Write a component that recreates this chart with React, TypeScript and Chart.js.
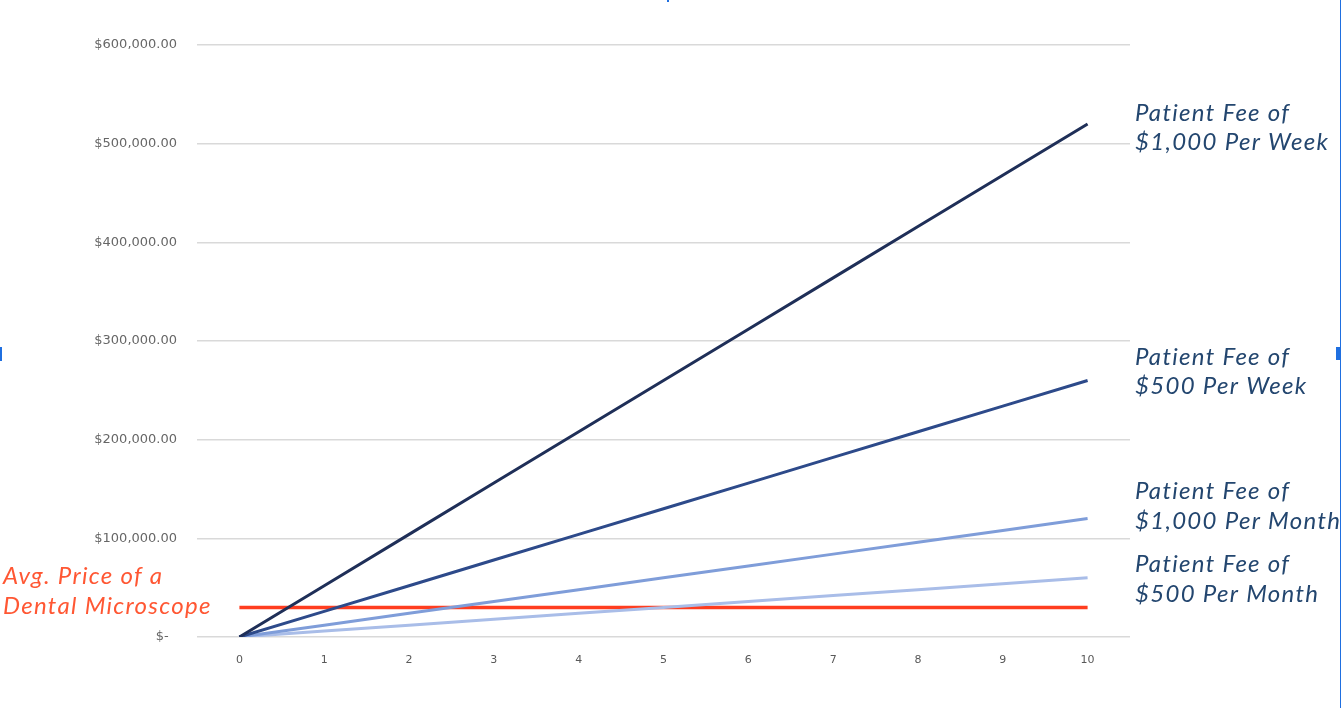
import React, { useEffect, useRef } from 'react';
import { Chart, registerables } from 'chart.js';

Chart.register(...registerables);

const years = ['0', '1', '2', '3', '4', '5', '6', '7', '8', '9', '10'];
const yTicks = [0, 100000, 200000, 300000, 400000, 500000, 600000];

const feeWeek1000 = [0, 52000, 104000, 156000, 208000, 260000, 312000, 364000, 416000, 468000, 520000];
const feeWeek500 = [0, 26000, 52000, 78000, 104000, 130000, 156000, 182000, 208000, 234000, 260000];
const feeMonth1000 = [0, 12000, 24000, 36000, 48000, 60000, 72000, 84000, 96000, 108000, 120000];
const feeMonth500 = [0, 6000, 12000, 18000, 24000, 30000, 36000, 42000, 48000, 54000, 60000];
const microscopePrice = [30000, 30000, 30000, 30000, 30000, 30000, 30000, 30000, 30000, 30000, 30000];

const seriesLabels = [
    ['Patient Fee of', '$1,000 Per Week'],
    ['Patient Fee of', '$500 Per Week'],
    ['Patient Fee of', '$1,000 Per Month'],
    ['Patient Fee of', '$500 Per Month'],
];
const priceLabel = ['Avg. Price of a', 'Dental Microscope'];

// baseline offsets of the two text lines from the end point of each series
const labelOffsets = [[-3, 26], [-15, 14], [-20, 10], [-6, 24]];

const noteFont = 'italic 24px Lato';

const notesPlugin = {
    id: 'notes',
    afterDatasetsDraw(chart: any) {
        const ctx = chart.ctx;
        ctx.save();
        ctx.font = noteFont;
        ctx.letterSpacing = '1.3px';
        ctx.textAlign = 'left';
        ctx.textBaseline = 'alphabetic';
        ctx.fillStyle = '#23466f';
        for (let i = 0; i < 4; i++) {
            const pts = chart.getDatasetMeta(i).data;
            const y = pts[pts.length - 1].y;
            ctx.fillText(seriesLabels[i][0], 1135, y + labelOffsets[i][0]);
            ctx.fillText(seriesLabels[i][1], 1135, y + labelOffsets[i][1]);
        }
        const red = chart.getDatasetMeta(4).data;
        const ry = red[0].y;
        ctx.fillStyle = '#ff5733';
        ctx.fillText(priceLabel[0], 3, ry - 23);
        ctx.fillText(priceLabel[1], 3, ry + 7);
        ctx.restore();
    },
};

function money(v: number) {
    if (v === 0) return '$-  ';
    return '$' + v.toLocaleString('en-US', { minimumFractionDigits: 2, maximumFractionDigits: 2 });
}

function FeeChart() {
    const canvas = useRef<HTMLCanvasElement>(null);

    useEffect(() => {
        const line = (data: number[], color: string, width: number) => ({
            data,
            borderColor: color,
            backgroundColor: color,
            borderWidth: width,
            pointRadius: 0,
            tension: 0,
            fill: false,
        });
        const chart = new Chart(canvas.current!, {
            type: 'line',
            data: {
                labels: years,
                datasets: [
                    line(feeWeek1000, '#1f2f58', 3),
                    line(feeWeek500, '#2d4a8a', 3),
                    line(feeMonth1000, '#7f9dd9', 3),
                    line(feeMonth500, '#a9bde8', 3),
                    line(microscopePrice, '#ff3d1f', 3.5),
                ],
            },
            options: {
                animation: false,
                responsive: false,
                layout: { padding: { top: 45, right: 212, bottom: 31, left: 0 } },
                plugins: { legend: { display: false }, tooltip: { enabled: false } },
                scales: {
                    x: {
                        type: 'category',
                        offset: true,
                        grid: { display: false, drawTicks: false },
                        border: { display: false },
                        ticks: {
                            padding: 17,
                            color: '#595959',
                            font: { family: 'DejaVu Sans', size: 11 },
                            maxRotation: 0,
                        },
                        afterFit: (s: any) => { s.height = 40; },
                    },
                    y: {
                        min: 0,
                        max: 600000,
                        afterBuildTicks: (s: any) => { s.ticks = yTicks.map((v) => ({ value: v })); },
                        grid: { color: '#d9d9d9', lineWidth: 1.5, drawTicks: false },
                        border: { display: false },
                        ticks: {
                            padding: 20,
                            color: '#666666',
                            font: { family: 'DejaVu Sans', size: 13 },
                            callback: (v: any) => money(Number(v)),
                        },
                        afterFit: (s: any) => { s.width = 197; },
                    },
                },
            },
            plugins: [notesPlugin],
        } as any);
        return () => {
            chart.destroy();
        };
    }, []);

    return <canvas ref={canvas} width={1342} height={708} style={{ display: 'block' }} />;
}

export default function App() {
    const blue = '#1f6fe0';
    return (
        <div style={{ position: 'fixed', left: 0, top: 0, width: 1342, height: 708, background: '#fff', overflow: 'hidden' }}>
            <FeeChart />
            <div style={{ position: 'absolute', left: 1340, top: 0, width: 1, height: 708, background: blue }} />
            <div style={{ position: 'absolute', left: 1336, top: 347, width: 5, height: 13, background: blue }} />
            <div style={{ position: 'absolute', left: 0, top: 347, width: 2, height: 14, background: blue }} />
            <div style={{ position: 'absolute', left: 667, top: 0, width: 2, height: 2, background: blue }} />
        </div>
    );
}
